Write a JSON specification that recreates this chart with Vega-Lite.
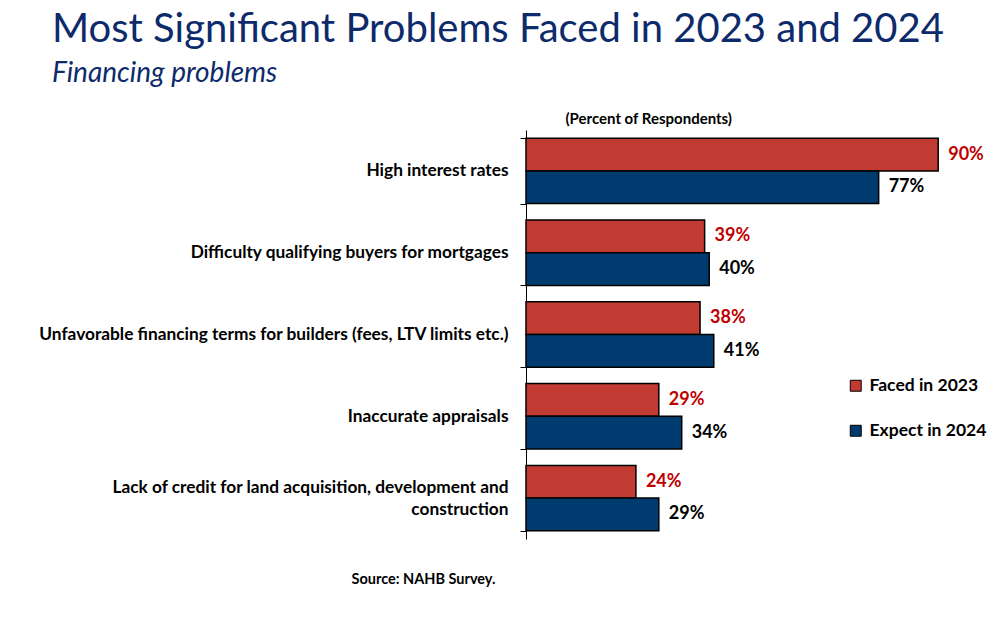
{
  "$schema": "https://vega.github.io/schema/vega-lite/v6.json",
  "width": 458,
  "height": 409,
  "autosize": {"type": "none"},
  "padding": {"left": 526, "top": 130, "right": 13, "bottom": 94},
  "background": "white",
  "title": {
    "text": "Most Significant Problems Faced in 2023 and 2024",
    "subtitle": "Financing problems",
    "anchor": "start",
    "frame": "group",
    "dx": -474,
    "offset": 23,
    "font": "Lato",
    "fontSize": 40,
    "fontWeight": "normal",
    "color": "#0D2A6B",
    "subtitleFont": "Lato",
    "subtitleFontSize": 28,
    "subtitleFontStyle": "italic",
    "subtitleColor": "#0D2A6B",
    "subtitlePadding": 10
  },
  "data": {
    "values": [
      {"problem": "High interest rates", "series": "Faced in 2023", "value": 0.90},
      {"problem": "High interest rates", "series": "Expect in 2024", "value": 0.77},
      {"problem": "Difficulty qualifying buyers for mortgages", "series": "Faced in 2023", "value": 0.39},
      {"problem": "Difficulty qualifying buyers for mortgages", "series": "Expect in 2024", "value": 0.40},
      {"problem": "Unfavorable financing terms for builders (fees, LTV limits etc.)", "series": "Faced in 2023", "value": 0.38},
      {"problem": "Unfavorable financing terms for builders (fees, LTV limits etc.)", "series": "Expect in 2024", "value": 0.41},
      {"problem": "Inaccurate appraisals", "series": "Faced in 2023", "value": 0.29},
      {"problem": "Inaccurate appraisals", "series": "Expect in 2024", "value": 0.34},
      {"problem": "Lack of credit for land acquisition, development and construction", "series": "Faced in 2023", "value": 0.24},
      {"problem": "Lack of credit for land acquisition, development and construction", "series": "Expect in 2024", "value": 0.29}
    ]
  },
  "encoding": {
    "y": {
      "field": "problem",
      "type": "nominal",
      "sort": null,
      "scale": {"paddingInner": 0.2, "paddingOuter": 0.1},
      "axis": {
        "title": null,
        "labelFont": "Lato",
        "labelFontWeight": "bold",
        "labelFontSize": 17.3,
        "labelColor": "black",
        "labelPadding": 12,
        "labelLimit": 0,
        "labelLineHeight": 22,
        "labelOffset": {"condition": {"test": "datum.value == 'Lack of credit for land acquisition, development and construction'", "value": -11}, "value": 0},
        "labelExpr": "datum.value == 'Lack of credit for land acquisition, development and construction' ? ['Lack of credit for land acquisition, development and', 'construction'] : datum.value",
        "tickBand": "extent",
        "tickColor": "black",
        "tickSize": 6,
        "domainColor": "black",
        "domainWidth": 1,
        "grid": false
      }
    },
    "yOffset": {"field": "series", "sort": ["Faced in 2023", "Expect in 2024"]}
  },
  "layer": [
    {
      "mark": {"type": "bar", "stroke": "black", "strokeWidth": 1.5},
      "encoding": {
        "x": {
          "field": "value",
          "type": "quantitative",
          "scale": {"domain": [0, 1]},
          "axis": {
            "orient": "top",
            "labels": false,
            "ticks": false,
            "domain": false,
            "grid": false,
            "title": "(Percent of Respondents)",
            "titleFont": "Lato",
            "titleFontWeight": "bold",
            "titleFontSize": 15,
            "titleColor": "black",
            "titleAnchor": "start",
            "titleAlign": "left",
            "titleX": 39,
            "titleY": -7,
            "titleBaseline": "alphabetic"
          }
        },
        "color": {
          "field": "series",
          "type": "nominal",
          "sort": ["Faced in 2023", "Expect in 2024"],
          "scale": {"domain": ["Faced in 2023", "Expect in 2024"], "range": ["#C23B33", "#003B70"]},
          "legend": {
            "title": null,
            "orient": "none",
            "legendX": 321,
            "legendY": 247,
            "symbolType": "square",
            "symbolSize": 120,
            "symbolStrokeColor": "black",
            "symbolStrokeWidth": 1,
            "symbolOpacity": 1,
            "labelFont": "Lato",
            "labelFontWeight": "bold",
            "labelFontSize": 17.5,
            "labelColor": "black",
            "labelOffset": 5,
            "rowPadding": 26
          }
        }
      }
    },
    {
      "mark": {"type": "text", "align": "left", "baseline": "middle", "dx": 10, "font": "Lato", "fontWeight": "bold", "fontSize": 18},
      "encoding": {
        "x": {
          "field": "value",
          "type": "quantitative",
          "axis": {
            "orient": "bottom",
            "labels": false,
            "ticks": false,
            "domain": false,
            "grid": false,
            "title": "Source: NAHB Survey.",
            "titleFont": "Lato",
            "titleFontWeight": "bold",
            "titleFontSize": 14.5,
            "titleColor": "black",
            "titleAnchor": "start",
            "titleAlign": "left",
            "titleX": -175,
            "titleY": 44,
            "titleBaseline": "alphabetic"
          }
        },
        "text": {"field": "value", "type": "quantitative", "format": ".0%"},
        "color": {
          "condition": {"test": "datum.series == 'Faced in 2023'", "value": "#C00000"},
          "value": "black"
        }
      }
    }
  ],
  "resolve": {"axis": {"x": "independent"}},
  "config": {"view": {"stroke": null}}
}
